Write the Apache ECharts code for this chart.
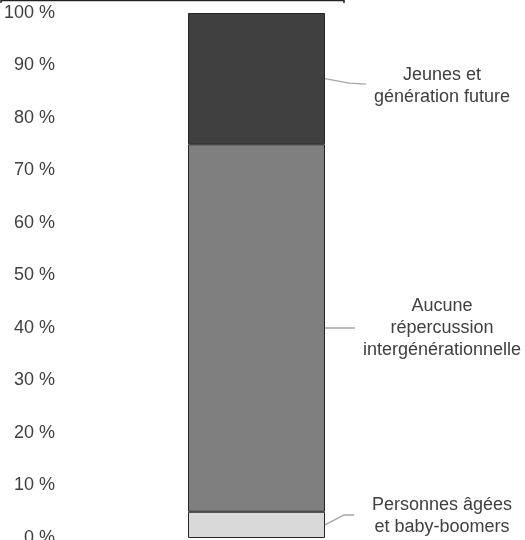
<!DOCTYPE html>
<html>
<head>
<meta charset="utf-8">
<script src="https://cdn.jsdelivr.net/npm/echarts@6/dist/echarts.min.js"></script>
<style>
  html, body { margin: 0; padding: 0; background: #fff; }
  #chart { width: 525px; height: 540px; }
</style>
</head>
<body>
<div id="chart"></div>
<script>
// Répartition des répercussions intergénérationnelles (une seule colonne empilée, en %)
const categories = ['Total'];
const segmentNames = [
  'Personnes âgées\net baby-boomers',
  'Aucune\nrépercussion\nintergénérationnelle',
  'Jeunes et\ngénération future'
];
const seniorsValues = [5];
const neutralValues = [70];
const youthValues = [25];
const yTicks = [0, 10, 20, 30, 40, 50, 60, 70, 80, 90, 100];

const segmentColors = ['#d9d9d9', '#7f7f7f', '#404040'];
const textColor = '#404040';
const fontFamily = '"Liberation Sans", Arial, sans-serif';

const GRID = { left: 188, top: 13, width: 137, bottom: 2 };
const LABEL_DISTANCE = 117;
// vertical nudge of each label relative to its segment centre
const labelOffsets = [[0, -9], [0, 0], [0, 7]];

const seriesValues = [seniorsValues, neutralValues, youthValues];

const chart = echarts.init(document.getElementById('chart'), null, { renderer: 'canvas' });

const option = {
  animation: false,
  backgroundColor: '#ffffff',
  textStyle: { fontFamily: fontFamily },
  grid: {
    left: GRID.left,
    top: GRID.top,
    width: GRID.width,
    bottom: GRID.bottom,
    containLabel: false,
    outerBoundsMode: 'none'
  },
  xAxis: {
    type: 'category',
    data: categories,
    show: false
  },
  yAxis: {
    type: 'value',
    min: yTicks[0],
    max: yTicks[yTicks.length - 1],
    interval: yTicks[1] - yTicks[0],
    axisLine: { show: false },
    axisTick: { show: false },
    splitLine: { show: false },
    axisLabel: {
      formatter: '{value} %',
      color: textColor,
      fontSize: 18,
      fontFamily: fontFamily,
      margin: 133
    }
  },
  series: seriesValues.map((vals, i) => ({
    name: segmentNames[i],
    type: 'bar',
    stack: 'total',
    barWidth: '100%',
    data: vals,
    itemStyle: {
      color: segmentColors[i],
      borderColor: '#262626',
      borderWidth: 1
    },
    label: {
      show: true,
      position: 'right',
      distance: LABEL_DISTANCE,
      align: 'center',
      verticalAlign: 'middle',
      offset: labelOffsets[i],
      formatter: () => segmentNames[i],
      color: textColor,
      fontSize: 18,
      lineHeight: 22,
      fontFamily: fontFamily
    }
  }))
};

chart.setOption(option);

// Leader lines from the right edge of each segment (at its middle) towards its label
const barRight = chart.convertToPixel({ gridIndex: 0 }, [0, 0])[0] + GRID.width / 2;
const leaderShapes = [
  [[0, 0], [19, -10], [29, -10]],
  [[0, 0], [30, 0]],
  [[0, 0], [24, 4.5], [41, 5.5]]
];
let base = 0;
const leaders = seriesValues.map((vals, i) => {
  const mid = base + vals[0] / 2;
  base += vals[0];
  const y = chart.convertToPixel({ yAxisIndex: 0 }, mid);
  return {
    type: 'polyline',
    silent: true,
    z: 10,
    shape: { points: leaderShapes[i].map(p => [barRight + p[0], y + p[1]]) },
    style: { stroke: '#a6a6a6', lineWidth: 1.5, fill: null }
  };
});

// clipped bracket fragment running along the top edge
leaders.push({
  type: 'polyline',
  silent: true,
  shape: { points: [[1, 3], [1, 0.5], [344, 0.5], [344, 3]] },
  style: { stroke: '#222222', lineWidth: 1.5, fill: null }
});

chart.setOption({ graphic: leaders });
</script>
</body>
</html>
